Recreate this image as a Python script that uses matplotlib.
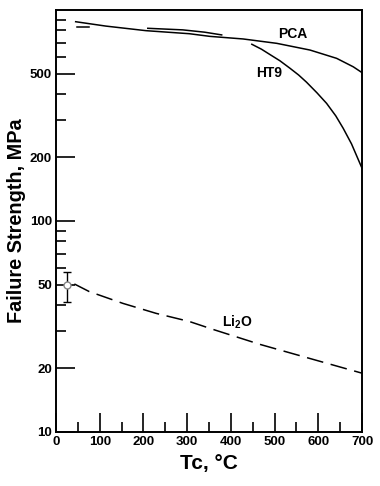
import numpy as np
import matplotlib.pyplot as plt
from matplotlib.ticker import FixedLocator, NullFormatter

plt.rcParams['font.family'] = ['Liberation Sans', 'DejaVu Sans']

# PCA curve
pca_t = [45, 114, 206, 305, 352, 428, 505, 581, 642, 680, 700]
pca_s = [880, 839, 798, 772, 750, 729, 695, 646, 590, 538, 505]

# HT9 curve
ht9_t = [448, 470, 490, 512, 535, 555, 573, 597, 619, 640, 657, 676, 695, 700]
ht9_s = [688, 652, 614, 575, 530, 492, 455, 405, 361, 315, 275, 232, 188, 178]

# short data segments near top
seg1_t = [47, 76]
seg1_s = [834, 834]
seg2_t = [210, 290, 340, 379]
seg2_s = [819, 805, 785, 762]

# Li2O dashed curve
li_t = [42, 76, 153, 229, 305, 360, 467, 581, 700]
li_s = [50.3, 46.3, 40.7, 36.5, 33.4, 30.6, 26.0, 22.3, 19.0]

# Li2O data point with error bar
pt_t = [25]
pt_s = [50]
pt_lo = [41.3]
pt_hi = [57.5]

fig = plt.figure(figsize=(3.8, 4.86), dpi=100)
ax = fig.add_axes([56/380, 1-432/486, 306/380, 422/486])

ax.plot(pca_t, pca_s, color='black', lw=1.1)
ax.plot(ht9_t, ht9_s, color='black', lw=1.1)
ax.plot(seg1_t, seg1_s, color='black', lw=1.1)
ax.plot(seg2_t, seg2_s, color='black', lw=1.1)
ax.plot(li_t, li_s, color='black', lw=1.1, dashes=(11, 5))

yerr = [[pt_s[0] - pt_lo[0]], [pt_hi[0] - pt_s[0]]]
ax.errorbar(pt_t, pt_s, yerr=yerr, fmt='o', mfc='white', mec='#888888',
            ms=5, ecolor='black', elinewidth=1, capsize=3, capthick=1)

ax.set_yscale('log')
ax.set_xlim(0, 700)
ax.set_ylim(10, 1000)

ax.xaxis.set_major_locator(FixedLocator([0, 100, 200, 300, 400, 500, 600, 700]))
ax.xaxis.set_minor_locator(FixedLocator([50, 150, 250, 350, 450, 550, 650]))
ax.yaxis.set_major_locator(FixedLocator([10, 20, 50, 100, 200, 500]))
ax.yaxis.set_minor_locator(FixedLocator([30, 40, 60, 70, 80, 90, 300, 400, 600, 700, 800, 900]))
ax.yaxis.set_minor_formatter(NullFormatter())
ax.set_yticklabels(['10', '20', '50', '100', '200', '500'])

ax.tick_params(which='major', direction='in', length=14, width=1.2,
               labelsize=9.5, pad=3)
ax.tick_params(which='minor', direction='in', length=7, width=1.2)
ax.tick_params(axis='y', which='both', right=False)
ax.tick_params(axis='x', which='both', top=False)
for lab in ax.get_xticklabels() + ax.get_yticklabels():
    lab.set_fontweight('bold')
for sp in ax.spines.values():
    sp.set_linewidth(1.4)

ax.text(542, 769, 'PCA', fontsize=10, fontweight='bold', ha='center', va='center')
ax.text(487, 502, 'HT9', fontsize=10, fontweight='bold', ha='center', va='center')
ax.text(414, 33.2, 'Li$_\\mathregular{2}$O', fontsize=10, fontweight='bold', ha='center', va='center')

ax.set_xlabel('Tc, °C', fontsize=15, fontweight='bold', labelpad=4)
ax.set_ylabel('Failure Strength, MPa', fontsize=14.3, fontweight='bold', labelpad=3)

fig.savefig('out.png', dpi=100)
